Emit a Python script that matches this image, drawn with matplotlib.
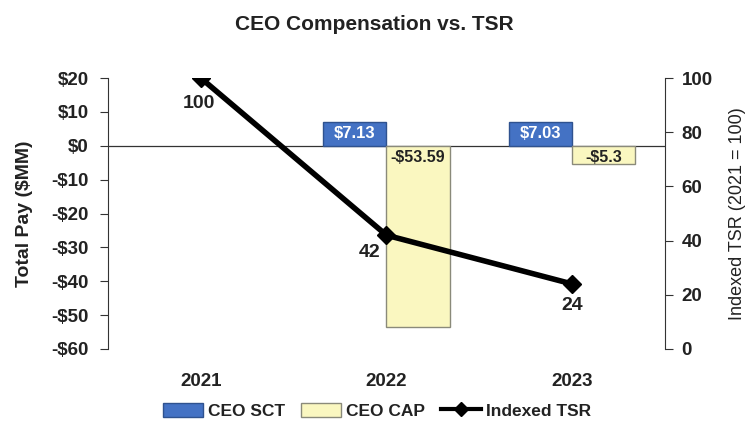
import numpy as np
import matplotlib.pyplot as plt
from matplotlib.lines import Line2D
from matplotlib.patches import Patch

plt.rcParams['font.family'] = ['Liberation Sans', 'DejaVu Sans']

years = ["2021", "2022", "2023"]
ceo_sct = [np.nan, 7.13, 7.03]
ceo_cap = [np.nan, -53.59, -5.3]
sct_labels = ["", "$7.13", "$7.03"]
cap_labels = ["", "-$53.59", "-$5.3"]
tsr = [100, 42, 24]

blue = "#4472c4"
yellow = "#faf7c0"

fig = plt.figure(figsize=(7.48, 4.29), dpi=100)
ax = fig.add_axes([0.1444, 0.1865, 0.7446, 0.6315])
x = np.arange(len(years))
w = 0.34

b1 = ax.bar(x - w / 2, ceo_sct, w, color=blue, edgecolor="#2f528f", linewidth=1, zorder=2)
b2 = ax.bar(x + w / 2, ceo_cap, w, color=yellow, edgecolor="#8a8a7a", linewidth=1, zorder=2)

for i in range(len(years)):
    if sct_labels[i]:
        ax.text(x[i] - w / 2, ceo_sct[i] / 2, sct_labels[i], ha="center", va="center",
                color="white", fontsize=12, fontweight="bold", zorder=3)
    if cap_labels[i]:
        ax.text(x[i] + w / 2, -1.3, cap_labels[i], ha="center", va="top",
                color="#222222", fontsize=11.5, fontweight="bold", zorder=3)

ax.axhline(0, color="#333333", linewidth=0.9, zorder=1)
ax.set_ylim(-60, 20)
ax.set_xlim(-0.5, 2.5)
ax.set_yticks(np.arange(-60, 21, 10))
ax.set_yticklabels([f"-${abs(v)}" if v < 0 else f"${v}" for v in range(-60, 21, 10)])
ax.set_xticks(x)
ax.set_xticklabels(years)
ax.tick_params(axis="x", length=0, pad=17)
ax.tick_params(axis="y", direction="out", length=6, pad=8, color="#333333")
for lab in ax.get_xticklabels() + ax.get_yticklabels():
    lab.set_fontweight("bold")
    lab.set_fontsize(13.5)
    lab.set_color("#222222")
ax.spines["top"].set_visible(False)
ax.spines["bottom"].set_visible(False)
ax.spines["right"].set_visible(False)
ax.spines["left"].set_color("#333333")
ax.set_ylabel("Total Pay ($MM)", fontsize=14, fontweight="bold", color="#222222", labelpad=13)

ax2 = ax.twinx()
ax2.plot(x, tsr, color="black", linewidth=4, marker="D", markersize=9, zorder=4)
ax2.set_ylim(0, 100)
ax2.set_yticks(np.arange(0, 101, 20))
ax2.tick_params(axis="y", direction="out", length=6, pad=6, color="#333333", labelsize=13.5)
for lab in ax2.get_yticklabels():
    lab.set_fontweight("bold")
    lab.set_color("#222222")
for s in ["top", "bottom", "left"]:
    ax2.spines[s].set_visible(False)
ax2.spines["right"].set_color("#333333")
ax2.set_ylabel("Indexed TSR (2021 = 100)", fontsize=13, color="#222222", labelpad=12)

offsets = [(-0.01, -9.2), (-0.09, -6.3), (0.0, -8.0)]
for i, v in enumerate(tsr):
    ax2.text(x[i] + offsets[i][0], v + offsets[i][1], str(v), ha="center", va="center",
             fontsize=14, fontweight="bold", color="#222222")

fig.suptitle("CEO Compensation vs. TSR", x=0.5, y=0.965, fontsize=15, fontweight="bold", color="#222222")

handles = [Patch(facecolor=blue, edgecolor="#2f528f", label="CEO SCT"),
           Patch(facecolor=yellow, edgecolor="#8a8a7a", label="CEO CAP"),
           Line2D([0], [0], color="black", linewidth=3, marker="D", markersize=7, label="Indexed TSR")]
leg = fig.legend(handles=handles, loc="center", bbox_to_anchor=(0.504, 0.042), ncol=3, frameon=False,
                 fontsize=12.5, handlelength=2.3, handleheight=0.9, columnspacing=0.9, handletextpad=0.3)
for t in leg.get_texts():
    t.set_fontweight("bold")
    t.set_color("#222222")

fig.savefig("out.png", dpi=100)
